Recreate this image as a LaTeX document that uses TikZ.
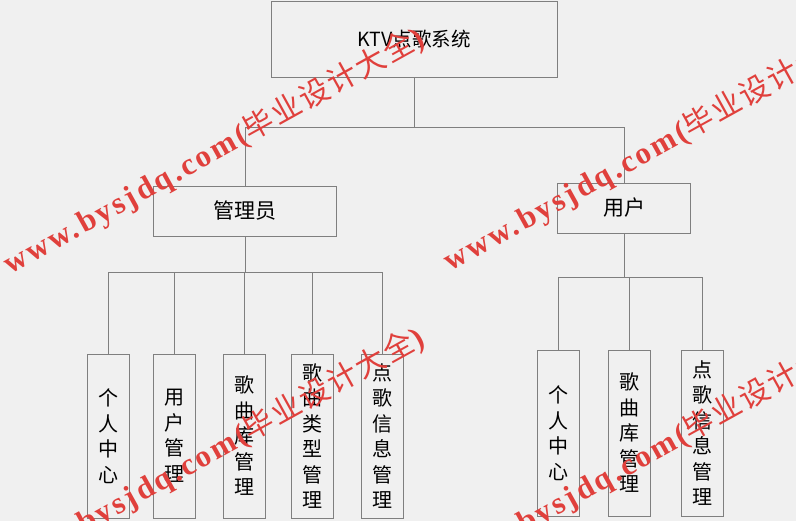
\documentclass[tikz,border=0pt]{standalone}
\usepackage{fontspec}
\newfontfamily\cjk{Noto Sans CJK SC}
\newfontfamily\wmfont{Liberation Serif}[LetterSpace=9]
\definecolor{bggray}{HTML}{F0F0F0}
\definecolor{linegray}{HTML}{7F7F7F}
\definecolor{wmred}{HTML}{E0403C}
% watermark text
\newcommand{\wmtext}{{\wmfont\bfseries\fontsize{31}{31}\selectfont www.bysjdq.com(}{\cjk\fontsize{30}{30}\selectfont 毕\hspace{2pt}业\hspace{2pt}设\hspace{2pt}计\hspace{2pt}大\hspace{2pt}全}{\wmfont\bfseries\fontsize{31}{31}\selectfont )}}

\begin{document}
\begin{tikzpicture}[x=1pt, y=-1pt, line width=0.8pt,
    box/.style={draw=linegray, rectangle, inner sep=0pt, text=black, font=\cjk\fontsize{21}{24}\selectfont},
    vbox/.style={box, minimum width=42pt, align=center, font=\cjk\fontsize{20}{25.5}\selectfont},
    wm/.style={rotate=29, anchor=base west, inner sep=0pt, text=wmred}]
  \fill[bggray] (0,0) rectangle (796,521);
  \useasboundingbox (0,0) rectangle (796,521);

  \node[box, minimum width=286pt, minimum height=76pt, font=\cjk\fontsize{19.5}{22}\selectfont] (sys) at (414,39) {KTV点歌系统};
  \node[box, minimum width=183pt, minimum height=50pt] (admin) at (245,211) {管理员};
  \node[box, minimum width=133pt, minimum height=50pt] (user) at (624,208) {用户};

  % admin side
  \node[vbox, minimum height=164pt] (a1) at (108.5,436) {个\\人\\中\\心};
  \node[vbox, minimum height=164pt] (a2) at (174.5,436) {用\\户\\管\\理};
  \node[vbox, minimum height=164pt] (a3) at (244,436) {歌\\曲\\库\\管\\理};
  \node[vbox, minimum height=164pt] (a4) at (312.5,436) {歌\\曲\\类\\型\\管\\理};
  \node[vbox, minimum height=164pt] (a5) at (382,436) {点\\歌\\信\\息\\管\\理};
  % user side
  \node[vbox, minimum height=166pt] (u1) at (558,433) {个\\人\\中\\心};
  \node[vbox, minimum height=166pt] (u2) at (629,433) {歌\\曲\\库\\管\\理};
  \node[vbox, minimum height=166pt] (u3) at (702.5,433) {点\\歌\\信\\息\\管\\理};

  \coordinate (topbus) at (414,127);
  \coordinate (abus) at (245,272);
  \coordinate (ubus) at (624,277);

  \draw[linegray] (sys.south) -- (topbus);
  \draw[linegray] (admin.north) |- (topbus);
  \draw[linegray] (user.north) |- (topbus);
  \draw[linegray] (admin.south) -- (abus);
  \foreach \n in {a1,a2,a3,a4,a5}
    \draw[linegray] (\n.north) |- (abus);
  \draw[linegray] (user.south) -- (ubus);
  \foreach \n in {u1,u2,u3}
    \draw[linegray] (\n.north) |- (ubus);

  % watermarks
  \begin{scope}
    \clip (0,0) rectangle (796,521);
    \node[wm] (wm1) at (10,275) {\wmtext};
    \node[wm] (wm2) at (450,272) {\wmtext};
    \node[wm] (wm3) at (10,575) {\wmtext};
    \node[wm] (wm4) at (450,575) {\wmtext};
  \end{scope}
\end{tikzpicture}
\end{document}
